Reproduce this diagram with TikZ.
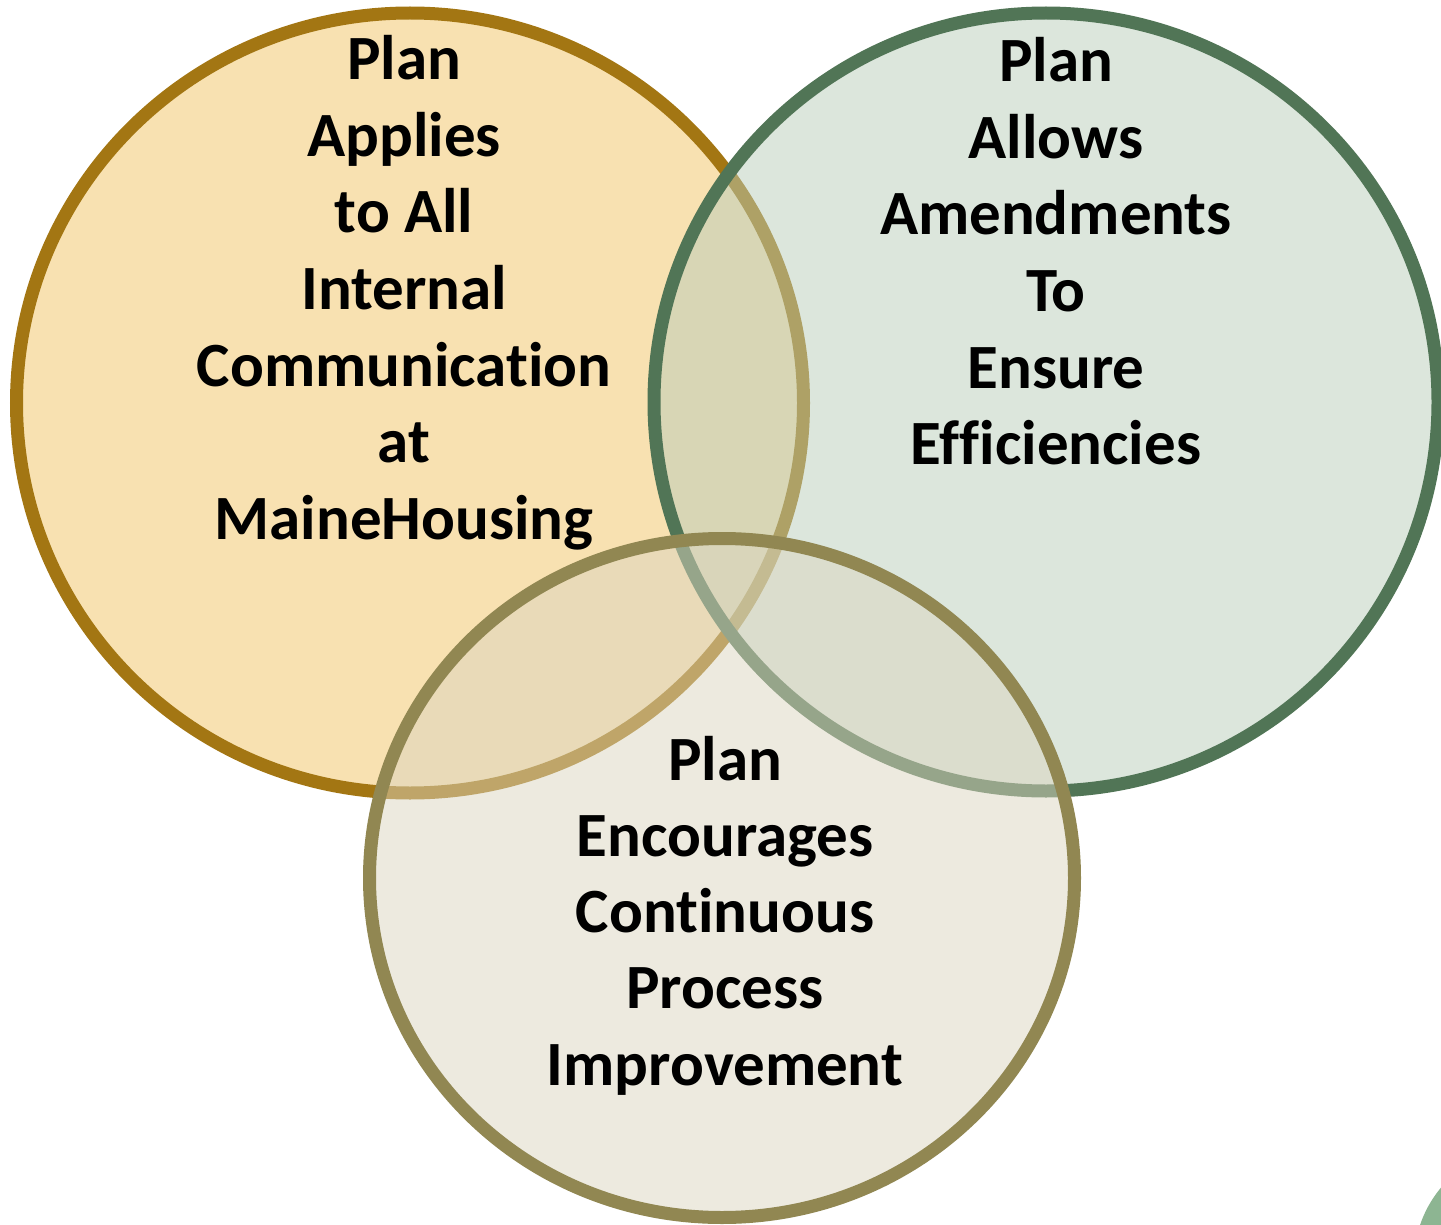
\documentclass[tikz,border=0pt]{standalone}
\usepackage{fontspec}
\setmainfont{Carlito}[Ligatures=NoCommon]
\definecolor{goldline}{RGB}{163,118,19}
\definecolor{goldfill}{RGB}{248,225,177}
\definecolor{greenline}{RGB}{81,117,86}
\definecolor{greenfill}{RGB}{185,205,185}
\definecolor{oliveline}{RGB}{145,135,82}
\definecolor{olivefill}{RGB}{219,213,191}
\definecolor{cornergreen}{RGB}{141,181,146}
\begin{document}
\begin{tikzpicture}[x=1pt,y=-1pt,
  ring/.style={line width=13pt},
  lbl/.style={anchor=base,inner sep=0pt,font=\bfseries\fontsize{63}{76}\selectfont}]
\useasboundingbox (0,0) rectangle (1441,1225);
\clip (0,0) rectangle (1441,1225);
% corner fragment
\fill[cornergreen] (1530,1262) circle (116pt);
% circles
\draw[ring,draw=goldline,fill=goldfill] (410,403) ellipse [x radius=393.5pt, y radius=390pt];
\draw[ring,draw=greenline,fill=greenfill,fill opacity=0.5] (1046,402) ellipse [x radius=392pt, y radius=389pt];
\draw[ring,draw=oliveline,fill=olivefill,fill opacity=0.5] (722,878) ellipse [x radius=352.5pt, y radius=339.5pt];
% texts
\foreach \t [count=\i from 0] in {Plan,Applies,to All,Internal,Communication,at,MaineHousing}
  \node[lbl] (a\i) at (404,80+76.5*\i) {\t};
\foreach \t [count=\i from 0] in {Plan,Allows,Amendments,To,Ensure,Efficiencies}
  \node[lbl] (b\i) at (1056,82+76.5*\i) {\t};
\foreach \t [count=\i from 0] in {Plan,Encourages,Continuous,Process,Improvement}
  \node[lbl] (c\i) at (725,780+76.3*\i) {\t};
\end{tikzpicture}
\end{document}
